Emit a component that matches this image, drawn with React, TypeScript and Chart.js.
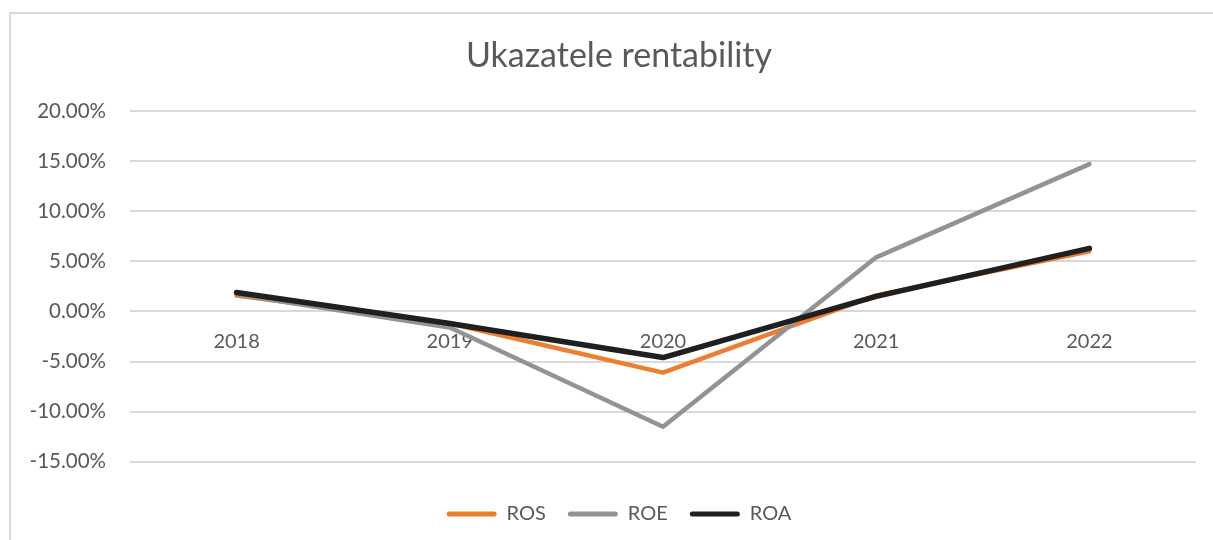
import React, { useEffect, useRef } from "react";
import { Chart, registerables } from "chart.js";

Chart.register(...registerables);

const categories = ["2018", "2019", "2020", "2021", "2022"];
const seriesNames = ["ROS", "ROE", "ROA"];
const rosValues = [1.6, -1.2, -6.1, 1.6, 6.0];
const roeValues = [1.7, -1.6, -11.5, 5.4, 14.7];
const roaValues = [1.9, -1.2, -4.6, 1.5, 6.3];
const chartTitle = "Ukazatele rentability";
const yMin = -15;
const yMax = 20;
const yStep = 5;

const unclipYLabels = {
  id: "unclipYLabels",
  afterLayout(chart: any) {
    const y = chart.scales.y;
    if (y) y.left = 0;
  },
};

export default function App() {
  const ref = useRef<HTMLCanvasElement>(null);

  useEffect(() => {
    const font = "Lato";
    const text = "#595959";
    const chart = new Chart(ref.current!, {
      type: "line",
      data: {
        labels: categories,
        datasets: [
          { label: seriesNames[0], data: rosValues, borderColor: "#ED7D31", backgroundColor: "#ED7D31", borderWidth: 4.5, order: 3 },
          { label: seriesNames[1], data: roeValues, borderColor: "#939393", backgroundColor: "#939393", borderWidth: 4.5, order: 2 },
          { label: seriesNames[2], data: roaValues, borderColor: "#1f1f1f", backgroundColor: "#1f1f1f", borderWidth: 5.5, order: 1 },
        ],
      },
      plugins: [unclipYLabels],
      options: {
        animation: false,
        responsive: false,
        layout: { padding: { left: 42, right: 17, top: 0, bottom: 6 } },
        elements: {
          point: { radius: 0, hoverRadius: 0 },
          line: { tension: 0, borderCapStyle: "round", borderJoinStyle: "round" },
        },
        scales: {
          x: {
            type: "category",
            position: { y: 0 } as any,
            offset: true,
            grid: { display: false },
            border: { display: false },
            ticks: { color: text, font: { family: font, size: 20 }, padding: 10, maxRotation: 0 },
          },
          y: {
            type: "linear",
            position: "left",
            min: yMin,
            max: yMax,
            ticks: {
              stepSize: yStep,
              color: text,
              font: { family: font, size: 20.5 },
              padding: 24,
              callback: (v: any) => Number(v).toFixed(2) + "%",
            },
            grid: { color: "#d9d9d9", lineWidth: 2, drawTicks: false },
            border: { display: false },
            afterFit: (s: any) => {
              s.width = 88;
            },
          },
        },
        plugins: {
          title: {
            display: true,
            text: chartTitle,
            color: text,
            font: { family: font, size: 34, weight: "normal" },
            padding: { top: 36, bottom: 34.2 },
          },
          legend: {
            position: "bottom",
            title: { display: true, text: "", font: { size: 1 }, padding: { top: 19, bottom: 0 } },
            labels: {
              color: text,
              font: { family: font, size: 20 },
              boxWidth: 50,
              boxHeight: 5,
              padding: 22,
              useBorderRadius: true,
              borderRadius: 2.5,
              sort: (a: any, b: any) => a.datasetIndex - b.datasetIndex,
              generateLabels: (c: any) =>
                (Chart.defaults.plugins.legend.labels.generateLabels as any)(c).map((l: any) => ({ ...l, lineWidth: 0 })),
            },
          },
          tooltip: { enabled: false },
        },
      },
    });
    return () => chart.destroy();
  }, []);

  return (
    <>
      <div
        style={{
          position: "fixed",
          left: 9,
          top: 12,
          right: -10,
          bottom: -10,
          borderLeft: "2px solid #d9d9d9",
          borderTop: "2px solid #d9d9d9",
          pointerEvents: "none",
        }}
      />
      <canvas
        ref={ref}
        width={1213}
        height={540}
        style={{ position: "fixed", left: 0, top: 0, width: 1213, height: 540 }}
      />
    </>
  );
}
